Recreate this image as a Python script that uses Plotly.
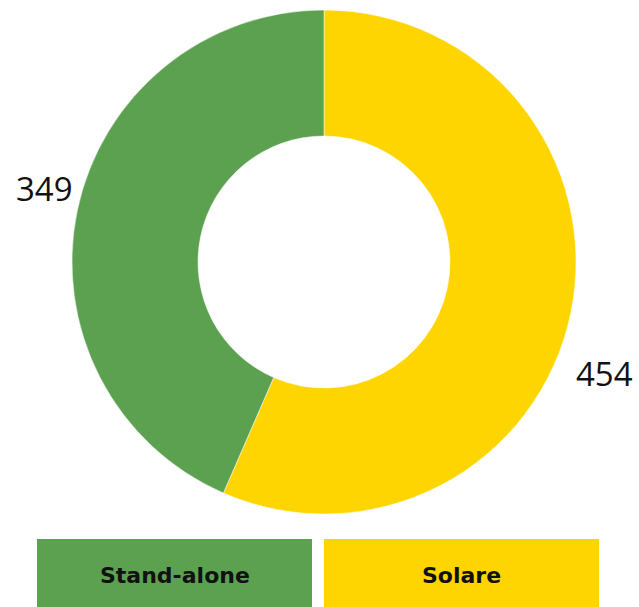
import plotly.graph_objects as go

categories = ["Stand-alone", "Solare"]
values = [349, 454]
colors = ["#5BA150", "#FFD500"]

W, H = 639, 607

fig = go.Figure()
fig.add_trace(go.Pie(
    labels=categories[::-1],
    values=values[::-1],
    hole=0.5,
    sort=False,
    direction="clockwise",
    rotation=0,
    marker=dict(colors=colors[::-1], line=dict(color="white", width=0.5)),
    textinfo="none",
    hoverinfo="label+value",
    showlegend=False,
    domain=dict(x=[72 / W, 576 / W], y=[1 - 514 / H, 1 - 10 / H]),
))

# value labels
label_pos = [(44, 188), (604, 373)]
for v, (px, py) in zip(values, label_pos):
    fig.add_annotation(x=px / W, y=1 - py / H, xref="paper", yref="paper",
                       text=str(v), showarrow=False,
                       font=dict(family="Open Sans", size=33, color="#111111"),
                       xanchor="center", yanchor="middle")

# legend boxes
boxes = [(37, 312), (324, 599)]
for cat, col, (x0, x1) in zip(categories, colors, boxes):
    fig.add_shape(type="rect", xref="paper", yref="paper",
                  x0=x0 / W, x1=x1 / W, y0=0, y1=1 - 539 / H,
                  fillcolor=col, line=dict(width=0), layer="below")
    fig.add_annotation(x=(x0 + x1) / 2 / W, y=1 - 575 / H, xref="paper", yref="paper",
                       text="<b>%s</b>" % cat, showarrow=False,
                       font=dict(family="DejaVu Sans", size=22, color="#111111"),
                       xanchor="center", yanchor="middle")

fig.update_layout(
    width=W, height=H,
    margin=dict(l=0, r=0, t=0, b=0),
    paper_bgcolor="white", plot_bgcolor="white",
)

fig.write_html("out.html", config={"displayModeBar": False},
               post_script="document.body.style.margin='0';")
